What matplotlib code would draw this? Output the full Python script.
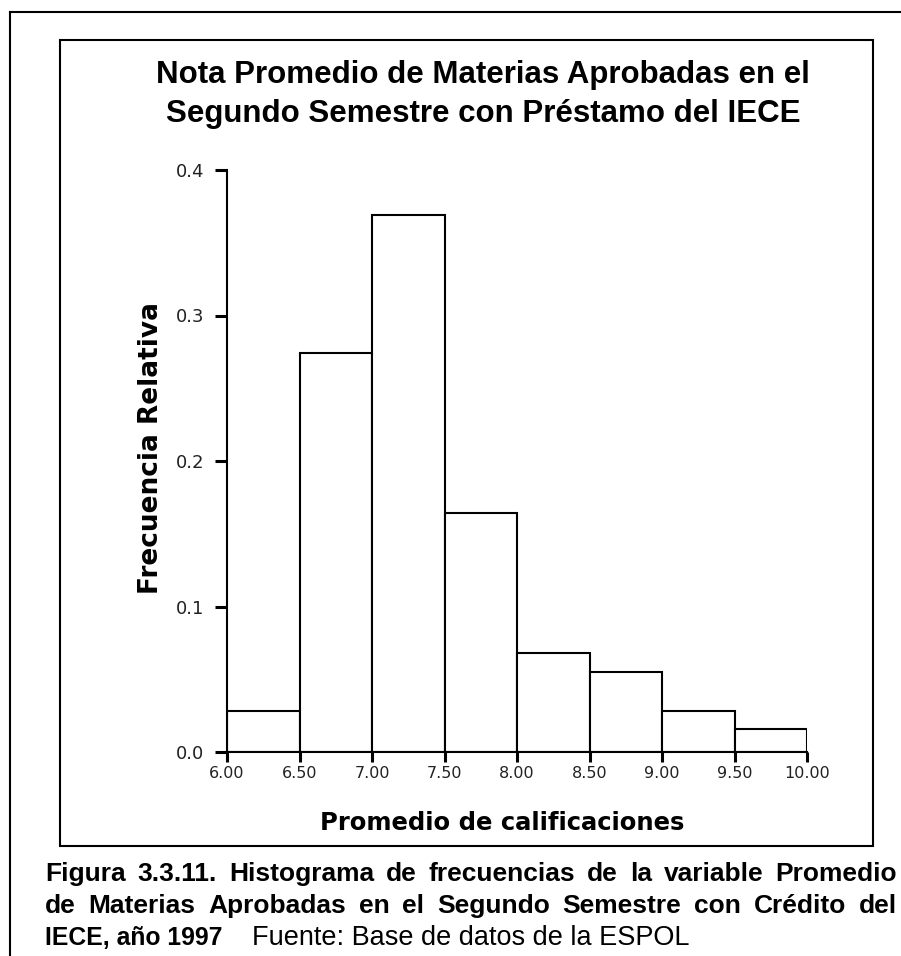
import matplotlib
matplotlib.use("Agg")
import matplotlib.pyplot as plt
from matplotlib.patches import Rectangle
from matplotlib.lines import Line2D

# datos del histograma
bin_edges = [6.0, 6.5, 7.0, 7.5, 8.0, 8.5, 9.0, 9.5, 10.0]
rel_freq = [0.028, 0.274, 0.369, 0.164, 0.068, 0.055, 0.028, 0.016]
x_ticklabels = ["6.00", "6.50", "7.00", "7.50", "8.00", "8.50", "9.00", "9.50", "10.00"]
y_ticks = [0.0, 0.1, 0.2, 0.3, 0.4]
y_ticklabels = ["0.0", "0.1", "0.2", "0.3", "0.4"]

title_lines = ["Nota Promedio de Materias Aprobadas en el",
               "Segundo Semestre con Préstamo del IECE"]
xlabel = "Promedio de calificaciones"
ylabel = "Frecuencia Relativa"
caption_1 = "Figura 3.3.11. Histograma de frecuencias de la variable Promedio"
caption_2 = "de Materias Aprobadas en el Segundo Semestre con Crédito del"
caption_3_bold = "IECE, año 1997"
caption_3 = "Fuente: Base de datos de la ESPOL"

W, H = 901, 956
fig = plt.figure(figsize=(W / 100, H / 100), dpi=100)
fig.patch.set_facecolor("white")


def fx(px):
    return px / W


def fy(py):
    return 1 - py / H


# ejes en pixeles: x 227..807, y 170..752
ax = fig.add_axes([fx(227), fy(752), fx(807) - fx(227), fy(170) - fy(752)])
ax.bar(bin_edges[:-1], rel_freq, width=0.5, align="edge",
       color="white", edgecolor="black", linewidth=1.5)
ax.set_xlim(bin_edges[0], bin_edges[-1])
ax.set_ylim(0, 0.4)
ax.set_xticks(bin_edges)
ax.set_xticklabels(x_ticklabels)
ax.set_yticks(y_ticks)
ax.set_yticklabels(y_ticklabels)
for s in ["top", "right"]:
    ax.spines[s].set_visible(False)
for s in ["left", "bottom"]:
    ax.spines[s].set_linewidth(1.5)
ax.tick_params(axis="y", length=8.6, width=2.2, pad=8, labelsize=13, labelcolor="#222222")
ax.tick_params(axis="x", length=7, width=2.2, pad=3, labelsize=11.5, labelcolor="#222222")
ax.patch.set_alpha(0)

# etiquetas de ejes
fig.text(fx(502), fy(823), xlabel, ha="center", va="center",
         fontsize=17.5, fontweight="bold", family="DejaVu Sans")
fig.text(fx(151), fy(448), ylabel, ha="center", va="center", rotation=90,
         fontsize=19, fontweight="bold", family="DejaVu Sans")

# titulo
fig.text(fx(483), fy(83), title_lines[0], ha="center", va="baseline",
         fontsize=22.5, fontweight="bold", family="Liberation Sans")
fig.text(fx(483), fy(122), title_lines[1], ha="center", va="baseline",
         fontsize=22.5, fontweight="bold", family="Liberation Sans")

# recuadros
fig.add_artist(Rectangle((fx(60), fy(846)), fx(873) - fx(60), fy(40) - fy(846),
                         transform=fig.transFigure, fill=False, lw=1.5, ec="black"))
fig.add_artist(Line2D([fx(10), fx(10)], [0, fy(12)], transform=fig.transFigure,
                      color="black", lw=1.5))
fig.add_artist(Line2D([fx(10), 1], [fy(12), fy(12)], transform=fig.transFigure,
                      color="black", lw=1.5))

# leyenda de la figura, justificada
renderer = fig.canvas.get_renderer()


def justify(text, y, x0, x1, **kw):
    words = text.split()
    objs = [fig.text(0, fy(y), w, va="baseline", **kw) for w in words]
    widths = [t.get_window_extent(renderer).width for t in objs]
    gap = ((x1 - x0) - sum(widths)) / (len(words) - 1)
    x = x0
    for t, w in zip(objs, widths):
        t.set_x(fx(x))
        x += w + gap


cap_kw = dict(fontsize=19, fontweight="bold", family="Liberation Sans")
justify(caption_1, 881, 45, 897, **cap_kw)
justify(caption_2, 913, 45, 897, **cap_kw)
fig.text(fx(45), fy(945), caption_3_bold, va="baseline",
         fontsize=17.8, fontweight="bold", family="Liberation Sans")
fig.text(fx(252), fy(945), caption_3, va="baseline",
         fontsize=19.5, family="Liberation Sans")

fig.savefig("out.png", dpi=100, facecolor="white")
